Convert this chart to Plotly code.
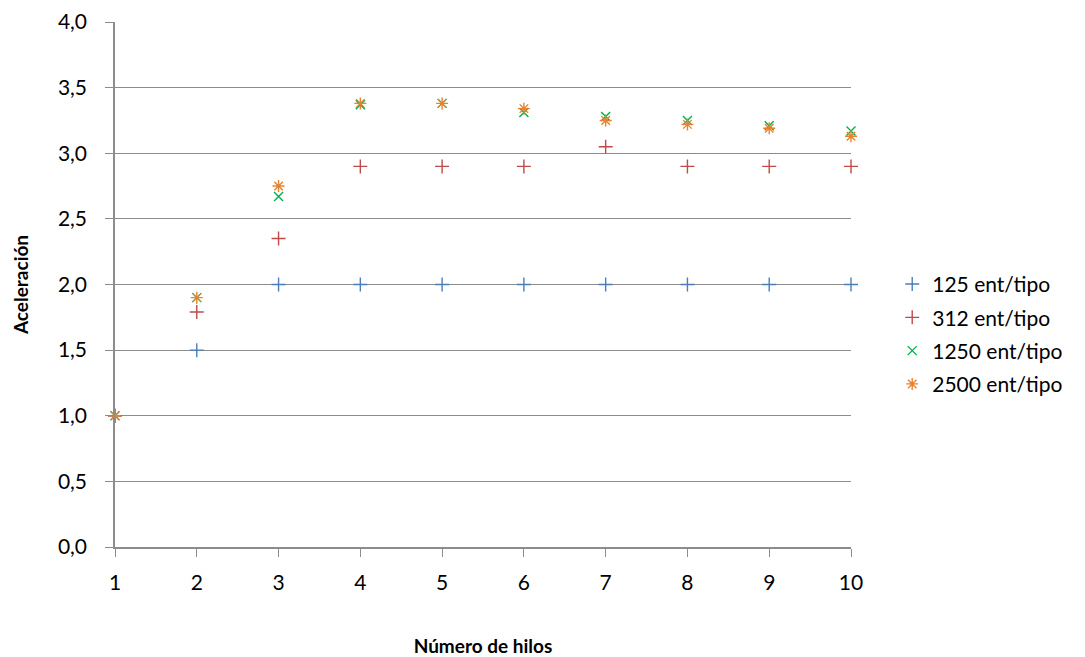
import plotly.graph_objects as go

# Número de hilos
hilos = [1, 2, 3, 4, 5, 6, 7, 8, 9, 10]

# Aceleración por tamaño de entrada
acel_125 = [1.0, 1.5, 2.0, 2.0, 2.0, 2.0, 2.0, 2.0, 2.0, 2.0]
acel_312 = [1.0, 1.79, 2.35, 2.90, 2.90, 2.90, 3.05, 2.90, 2.90, 2.90]
acel_1250 = [1.0, 1.90, 2.67, 3.37, 3.38, 3.31, 3.28, 3.25, 3.21, 3.17]
acel_2500 = [1.0, 1.90, 2.75, 3.38, 3.38, 3.34, 3.25, 3.22, 3.19, 3.13]

series = [
    ("125 ent/tipo", acel_125, "#4A7EBB", "cross-thin-open", 10),
    ("312 ent/tipo", acel_312, "#BE4B48", "cross-thin-open", 10),
    ("1250 ent/tipo", acel_1250, "#00B050", "x-thin-open", 9),
    ("2500 ent/tipo", acel_2500, "#E8822F", "asterisk-open", 10),
]

FONT = "Lato, 'Open Sans', sans-serif"
GRID = "#8C8C8C"

fig = go.Figure()
for name, vals, color, symbol, size in series:
    fig.add_trace(go.Scatter(
        x=hilos, y=vals, name=name, mode="markers", legendgroup=name,
        marker=dict(symbol=symbol, size=size, color=color,
                    line=dict(color=color, width=1.4)),
        cliponaxis=False,
    ))

fig.update_layout(
    width=1085, height=657,
    margin=dict(l=115, r=234, t=22, b=110),
    paper_bgcolor="white", plot_bgcolor="white",
    separators=",.",
    font=dict(family=FONT, size=21, color="#000000"),
    showlegend=True,
    legend=dict(x=1.056, y=0.405, xanchor="left", yanchor="middle",
                font=dict(size=21), itemwidth=30, tracegroupgap=3,
                bgcolor="rgba(0,0,0,0)"),
    xaxis=dict(
        range=[1, 10], tickmode="array", tickvals=hilos,
        ticks="outside", ticklen=8, tickcolor=GRID, tickwidth=1,
        showline=True, linecolor=GRID, linewidth=1.5,
        showgrid=False, zeroline=False, automargin=False,
        tickfont=dict(size=21), ticklabelstandoff=8,
        title=dict(text="<b>Número de hilos</b>", font=dict(size=19), standoff=47),
    ),
    yaxis=dict(
        range=[0, 4], dtick=0.5, tickformat=".1f",
        ticks="outside", ticklen=8, tickcolor=GRID, tickwidth=1,
        showline=True, linecolor=GRID, linewidth=1.5,
        showgrid=True, gridcolor=GRID, gridwidth=1, zeroline=False,
        automargin=False,
        tickfont=dict(size=21), ticklabelstandoff=14,
        title=dict(text="<b>Aceleración</b>", font=dict(size=19), standoff=24),
    ),
)

fig.write_html("out.html")
